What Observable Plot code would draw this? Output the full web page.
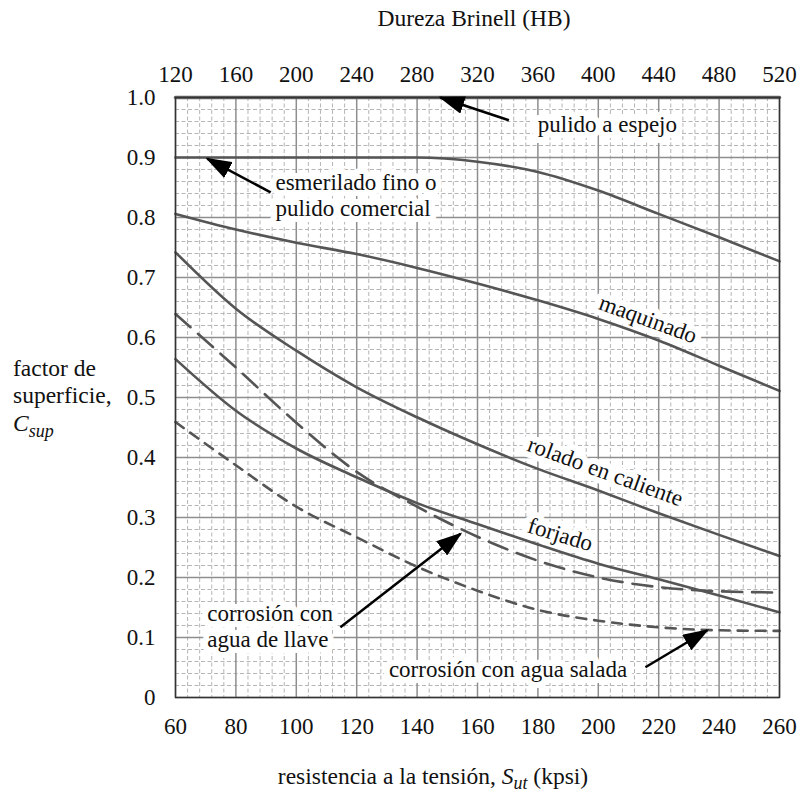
<!DOCTYPE html>
<html>
<head>
<meta charset="utf-8">
<script src="https://cdn.jsdelivr.net/npm/d3@7"></script>
<script src="https://cdn.jsdelivr.net/npm/@observablehq/plot@0.6"></script>
<style>
  html, body { margin: 0; padding: 0; background: #fff; }
  #chart { width: 800px; height: 797px; }
</style>
</head>
<body>
<div id="chart"></div>
<script>
// ---- Data ----
const sut = [60, 80, 100, 120, 140, 160, 180, 200, 220, 240, 260];          // kpsi
const brinellTicks = [120, 160, 200, 240, 280, 320, 360, 400, 440, 480, 520]; // HB
const yTicks = [0, 0.1, 0.2, 0.3, 0.4, 0.5, 0.6, 0.7, 0.8, 0.9, 1.0];

const pulidoSut = [60, 260];
const pulidoEspejo = [1.0, 1.0];
const esmerilado = [0.9, 0.9, 0.9, 0.9, 0.9, 0.893, 0.876, 0.845, 0.806, 0.767, 0.727];
const maquinado = [0.806, 0.780, 0.758, 0.739, 0.716, 0.690, 0.662, 0.631, 0.595, 0.553, 0.511];
const roladoCaliente = [0.742, 0.648, 0.578, 0.517, 0.467, 0.422, 0.381, 0.345, 0.307, 0.271, 0.236];
const forjado = [0.564, 0.478, 0.415, 0.367, 0.324, 0.289, 0.255, 0.223, 0.197, 0.170, 0.142];
const aguaLlave = [0.639, 0.550, 0.458, 0.376, 0.318, 0.268, 0.228, 0.200, 0.184, 0.177, 0.175];
const aguaSalada = [0.459, 0.387, 0.318, 0.267, 0.218, 0.178, 0.146, 0.128, 0.117, 0.112, 0.111];

// annotation labels
const labelText = ["pulido a espejo", "esmerilado fino o\npulido comercial", "maquinado",
  "rolado en caliente", "forjado", "corrosión con\nagua de llave", "corrosión con agua salada"];
const labelX = [203, 93.1, 216.6, 202.4, 187.5, 70.5, 170.1];
const labelY = [0.957, 0.838, 0.632, 0.378, 0.273, 0.119, 0.048];
const labelRotate = [0, 0, 20, 20, 17, 0, 0];
const labelAnchor = ["middle", "start", "middle", "middle", "middle", "start", "middle"];

// arrows (tail -> tip)
const arrowX1 = [170.4, 91.5, 114.6, 215.6];
const arrowY1 = [0.962, 0.842, 0.117, 0.0505];
const arrowX2 = [147.7, 70.5, 154.4, 236.1];
const arrowY2 = [1.0, 0.898, 0.273, 0.112];

// ---- Build tables ----
const toRows = (xs, ys) => xs.map((x, i) => ({x, y: ys[i]}));
const labels = labelText.map((t, i) => ({t, x: labelX[i], y: labelY[i], r: labelRotate[i], a: labelAnchor[i]}));
const arrows = arrowX1.map((x1, i) => ({x1, y1: arrowY1[i], x2: arrowX2[i], y2: arrowY2[i]}));

const majorX = sut;
const minorX = d3.range(60, 261, 4).filter(d => d % 20 !== 0);
const minorY = d3.range(0, 51).filter(i => i % 5 !== 0).map(i => i / 50);

const curveColor = "#555";
const fontFamily = "'Liberation Serif', 'DejaVu Serif', serif";
const FS = 23;

const labelOpts = (anchor) => ({
  filter: d => d.a === anchor, x: "x", y: "y", text: "t", rotate: "r", textAnchor: anchor,
  lineHeight: 1.13, fill: "#111", stroke: "white", strokeWidth: 12, strokeLinejoin: "round",
  paintOrder: "stroke", fontSize: FS
});

const chart = Plot.plot({
  width: 800,
  height: 797,
  marginLeft: 175,
  marginRight: 21,
  marginTop: 97,
  marginBottom: 100,
  style: {fontFamily, fontSize: FS + "px", color: "#111", background: "#fff"},
  x: {domain: [60, 260]},
  y: {domain: [0, 1]},
  marks: [
    // minor grid
    Plot.gridX(minorX, {stroke: "#b5b5b5", strokeOpacity: 1, strokeWidth: 1, strokeDasharray: "4,2.5"}),
    Plot.gridY(minorY, {stroke: "#b5b5b5", strokeOpacity: 1, strokeWidth: 1, strokeDasharray: "4,2.5"}),
    // major grid
    Plot.gridX(majorX, {stroke: "#8e8e8e", strokeOpacity: 1, strokeWidth: 1.5}),
    Plot.gridY(yTicks, {stroke: "#8e8e8e", strokeOpacity: 1, strokeWidth: 1.5}),
    // labels with white background halo
    Plot.text(labels, labelOpts("middle")),
    Plot.text(labels, labelOpts("start")),
    // curves
    Plot.line(toRows(pulidoSut, pulidoEspejo), {x: "x", y: "y", stroke: "#6a6a6a", strokeWidth: 3.5}),
    Plot.line(toRows(sut, esmerilado), {x: "x", y: "y", stroke: curveColor, strokeWidth: 2.6, curve: "monotone-x"}),
    Plot.line(toRows(sut, maquinado), {x: "x", y: "y", stroke: curveColor, strokeWidth: 2.6, curve: "monotone-x"}),
    Plot.line(toRows(sut, roladoCaliente), {x: "x", y: "y", stroke: curveColor, strokeWidth: 2.6, curve: "monotone-x"}),
    Plot.line(toRows(sut, forjado), {x: "x", y: "y", stroke: curveColor, strokeWidth: 2.6, curve: "monotone-x"}),
    Plot.line(toRows(sut, aguaLlave), {x: "x", y: "y", stroke: curveColor, strokeWidth: 2.6, curve: "monotone-x", strokeDasharray: "20,10"}),
    Plot.line(toRows(sut, aguaSalada), {x: "x", y: "y", stroke: curveColor, strokeWidth: 2.6, curve: "monotone-x", strokeDasharray: "10,8"}),
    // frame
    Plot.frame({stroke: "#333", strokeWidth: 1.5}),
    // arrows
    Plot.link(arrows, {x1: "x1", y1: "y1", x2: "x2", y2: "y2", stroke: "#000", strokeWidth: 2.5}),
    // axes
    Plot.axisX({anchor: "bottom", ticks: sut, tickSize: 0, tickPadding: 20, label: null, fill: "#111"}),
    Plot.axisX({anchor: "top", ticks: sut, tickFormat: (d, i) => String(brinellTicks[i]), tickSize: 0, tickPadding: 16, label: null, fill: "#111"}),
    Plot.axisY({ticks: yTicks, tickFormat: d => d === 0 ? "0" : d.toFixed(1), tickSize: 0, tickPadding: 20, label: null, fill: "#111"})
  ]
});

document.getElementById("chart").appendChild(chart);

// ---- post-processing: arrowheads and titles ----
const svg = d3.select(chart);
const defs = svg.insert("defs", ":first-child");
defs.append("marker")
  .attr("id", "ahead")
  .attr("viewBox", "0 0 26 18")
  .attr("refX", 24).attr("refY", 9)
  .attr("markerWidth", 26).attr("markerHeight", 18)
  .attr("markerUnits", "userSpaceOnUse")
  .attr("orient", "auto")
  .append("path").attr("d", "M0,0L26,9L0,18Z").attr("fill", "#000").attr("stroke", "none");
svg.selectAll("g[aria-label='link'] path").attr("marker-end", "url(#ahead)");

// top title
svg.append("text")
  .attr("x", 474).attr("y", 26)
  .attr("text-anchor", "middle")
  .attr("fill", "#111").attr("font-size", 23.5)
  .text("Dureza Brinell (HB)");

// bottom title
const bt = svg.append("text")
  .attr("x", 433).attr("y", 784)
  .attr("text-anchor", "middle")
  .attr("fill", "#111").attr("font-size", 23.5);
bt.append("tspan").text("resistencia a la tensión, ");
bt.append("tspan").attr("font-style", "italic").text("S");
bt.append("tspan").attr("font-style", "italic").attr("font-size", 18).attr("dy", 5).text("ut");
bt.append("tspan").attr("dy", -5).text(" (kpsi)");

// y title
const yt = svg.append("text").attr("fill", "#111").attr("font-size", 23.5).attr("text-anchor", "start");
yt.append("tspan").attr("x", 13).attr("y", 376).text("factor de");
yt.append("tspan").attr("x", 13).attr("y", 403).text("superficie,");
const yt2 = svg.append("text").attr("fill", "#111").attr("font-size", 23.5).attr("text-anchor", "start")
  .attr("x", 13).attr("y", 431);
yt2.append("tspan").attr("font-style", "italic").text("C");
yt2.append("tspan").attr("font-style", "italic").attr("font-size", 18).attr("dy", 6).text("sup");
</script>
</body>
</html>
